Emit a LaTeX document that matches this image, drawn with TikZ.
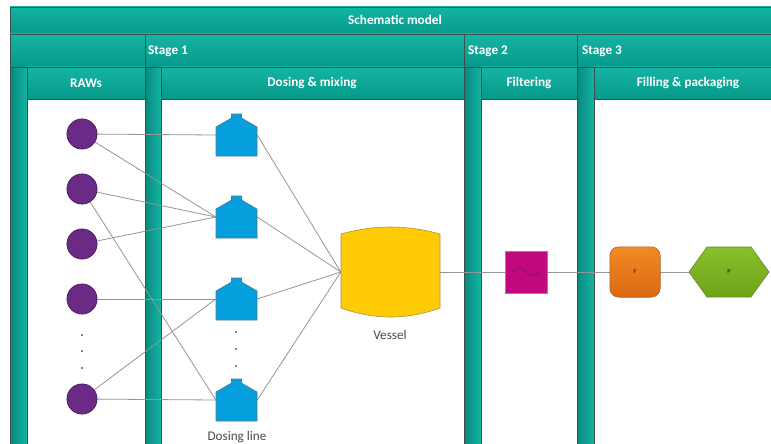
\documentclass[tikz,border=0pt]{standalone}
\usepackage{fontspec}
\setmainfont{Carlito}
\usetikzlibrary{calc}
\definecolor{tealtop}{HTML}{14B4A4}
\definecolor{tealbot}{HTML}{07998A}
\definecolor{hdrline}{HTML}{3B4F4D}
\definecolor{lanegray}{HTML}{BDBDBD}
\definecolor{linkgray}{HTML}{959595}
\definecolor{rawpurple}{HTML}{6A2A85}
\definecolor{rawedge}{HTML}{4E2263}
\definecolor{doseblue}{HTML}{069FDD}
\definecolor{doseedge}{HTML}{4D7C98}
\definecolor{vesselyellow}{HTML}{FFCB05}
\definecolor{vesseledge}{HTML}{A99442}
\definecolor{filtmag}{HTML}{C2087E}
\definecolor{filtedge}{HTML}{8C8C8C}
\definecolor{filtwave}{HTML}{7E1A5E}
\definecolor{orangetop}{HTML}{F18A24}
\definecolor{orangebot}{HTML}{DC6912}
\definecolor{orangeedge}{HTML}{A5642C}
\definecolor{greentop}{HTML}{88C02A}
\definecolor{greenbot}{HTML}{6FA31A}
\definecolor{greenedge}{HTML}{5F8C25}
\definecolor{labelgray}{HTML}{4A4A4A}
\begin{document}
\begin{tikzpicture}[x=1pt,y=-1pt,
  hdr/.style={draw=hdrline, line width=0.8pt, top color=tealtop, bottom color=tealbot},
  band/.style={draw=hdrline, line width=0.8pt, left color=tealbot!90!black, right color=tealtop},
  lane/.style={draw=lanegray, line width=0.6pt, fill=white},
  htext/.style={text=white, inner sep=0pt, font=\bfseries\fontsize{13.2}{15}\selectfont},
  link/.style={draw=linkgray, line width=0.8pt},
  raw/.style={circle, minimum size=30pt, inner sep=0pt, fill=rawpurple, draw=rawedge, line width=0.6pt},
  dosebox/.style={rectangle, minimum width=41pt, minimum height=42pt, inner sep=0pt},
  bottle/.style={fill=doseblue, draw=doseedge, line width=0.6pt},
  dotmark/.style={circle, fill=black, inner sep=0pt, minimum size=1.8pt},
  caption/.style={text=labelgray, inner sep=0pt, font=\fontsize{13.2}{15}\selectfont},
  tiny/.style={text=black!80, font=\bfseries\fontsize{6}{7}\selectfont}
]
\useasboundingbox (0,0) rectangle (771,444);
\clip (0,0) rectangle (771,444);

% lanes (white bodies)
\path[lane] (27,99) rectangle (145,460);
\path[lane] (161,99) rectangle (464,460);
\path[lane] (481,99) rectangle (577,460);
\path[lane] (594,99) rectangle (790,460);

% vertical bands
\path[band] (10,67) rectangle (27,460);
\path[band] (145,67) rectangle (161,460);
\path[band] (464,67) rectangle (481,460);
\path[band] (577,67) rectangle (594,460);

% header rows
\path[hdr] (10,7) rectangle (790,34);
\path[hdr] (10,34) rectangle (145,67);
\path[hdr] (145,34) rectangle (464,67);
\path[hdr] (464,34) rectangle (577,67);
\path[hdr] (577,34) rectangle (790,67);
\path[hdr] (27,67) rectangle (145,99);
\path[hdr] (161,67) rectangle (464,99);
\path[hdr] (481,67) rectangle (577,99);
\path[hdr] (594,67) rectangle (790,99);

% header texts
\node[htext] (tmodel) at (395,20) {Schematic model};
\node[htext, anchor=west] (tst1) at (148,51) {Stage 1};
\node[htext, anchor=west] (tst2) at (468,51) {Stage 2};
\node[htext, anchor=west] (tst3) at (582,51) {Stage 3};
\node[htext] (traw) at (86,83) {RAWs};
\node[htext] (tdose) at (312,83) {Dosing \& mixing};
\node[htext] (tfilt) at (529,83) {Filtering};
\node[htext] (tfill) at (688,83) {Filling \& packaging};

% node placeholders (for connector anchors)
\node[raw] (r1) at (82,134) {};
\node[raw] (r2) at (82,189) {};
\node[raw] (r3) at (82,244) {};
\node[raw] (r4) at (82,299) {};
\node[raw] (r5) at (82,399) {};
\node[dosebox] (d1) at (236.5,135) {};
\node[dosebox] (d2) at (236.5,217) {};
\node[dosebox] (d3) at (236.5,299) {};
\node[dosebox] (d4) at (236.5,400) {};
\node[rectangle, minimum width=99pt, minimum height=74pt, inner sep=0pt] (v) at (390.5,272) {};
\node[rectangle, minimum width=42pt, minimum height=42pt, inner sep=0pt] (f) at (526,272) {};
\node[rectangle, minimum width=50pt, minimum height=50pt, inner sep=0pt] (F) at (635,272) {};
\node[rectangle, minimum width=80pt, minimum height=50pt, inner sep=0pt] (p) at (729,272) {};

% connectors
\draw[link] (r1) -- (d1.west);
\draw[link] (r1) -- (d2.west);
\draw[link] (r2) -- (d2.west);
\draw[link] (r2) -- (d4.west);
\draw[link] (r3) -- (d2.west);
\draw[link] (r4) -- (d3.west);
\draw[link] (r5) -- (d3.west);
\draw[link] (r5) -- (d4.west);
\foreach \n in {d1,d2,d3,d4} \draw[link] (\n.east) -- (v.west);
\draw[link] (v.east) -- (f.west);
\draw[link] (f.east) -- (F.west);
\draw[link] (F.east) -- (p.west);

% raw circles on top
\foreach \n in {r1,r2,r3,r4,r5} \path[raw] (\n.center) circle (15);

% dosing bottles
\foreach \n in {d1,d2,d3,d4}
  \path[bottle] ($(\n.center)+(-20.5,21)$) -- ($(\n.center)+(20.5,21)$)
    -- ($(\n.center)+(20.5,-8)$) -- ($(\n.center)+(5,-17)$) -- ($(\n.center)+(5,-21)$)
    -- ($(\n.center)+(-5,-21)$) -- ($(\n.center)+(-5,-17)$) -- ($(\n.center)+(-20.5,-8)$) -- cycle;

% vessel
\path[fill=vesselyellow, draw=vesseledge, line width=0.6pt]
  ($(v.center)+(-49.5,36)$) -- ($(v.center)+(-49.5,-38)$)
  .. controls ($(v.center)+(-16,-47.3)$) and ($(v.center)+(16,-47.3)$) .. ($(v.center)+(49.5,-38)$)
  -- ($(v.center)+(49.5,36)$)
  .. controls ($(v.center)+(16,48)$) and ($(v.center)+(-16,48)$) .. cycle;

% filter
\path[fill=filtmag, draw=filtedge, line width=0.6pt] (f.north west) rectangle (f.south east);
\draw[filtwave, line width=0.9pt] ($(f.center)+(-14,0)$) sin ($(f.center)+(-7,-4)$) cos ($(f.center)+(0,0)$) sin ($(f.center)+(7,4)$) cos ($(f.center)+(14,0)$);

% F box
\path[top color=orangetop, bottom color=orangebot, draw=orangeedge, line width=0.6pt, rounded corners=9pt]
  (F.north west) rectangle (F.south east);
\node[tiny] (Flab) at (F.center) {F};

% P hexagon
\path[top color=greentop, bottom color=greenbot, draw=greenedge, line width=0.6pt]
  ($(p.center)+(-40,0)$) -- ($(p.center)+(-22,-25)$) -- ($(p.center)+(22,-25)$)
  -- ($(p.center)+(40,0)$) -- ($(p.center)+(22,25)$) -- ($(p.center)+(-22,25)$) -- cycle;
\node[tiny] (Plab) at (p.center) {P};

% dots
\node[dotmark] (rd1) at (82,335) {};
\node[dotmark] (rd2) at (82,351) {};
\node[dotmark] (rd3) at (82,368) {};
\node[dotmark] (dd1) at (236,332) {};
\node[dotmark] (dd2) at (236,349) {};
\node[dotmark] (dd3) at (236,366) {};

% captions
\node[caption] (vcap) at (390,335) {Vessel};
\node[caption] (dcap) at (237,437) {Dosing line};
\end{tikzpicture}
\end{document}
